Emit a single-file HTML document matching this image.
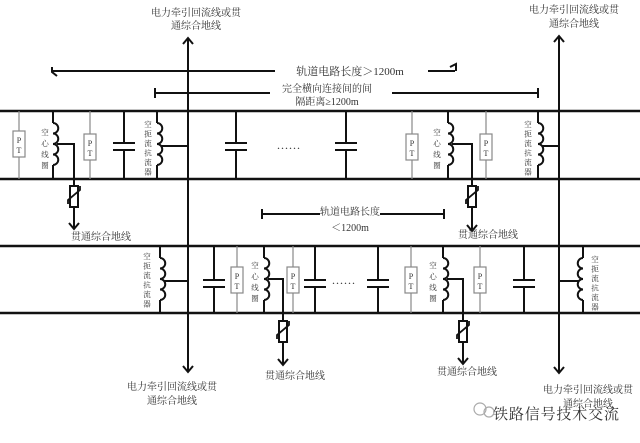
<!DOCTYPE html>
<html><head><meta charset="utf-8"><style>
body{margin:0;background:#fff}
svg{display:block}
text{font-family:"Liberation Serif","Noto Serif CJK SC","Noto Sans CJK SC",serif;fill:#333}
</style></head><body>
<svg width="640" height="443" viewBox="0 0 640 443" xmlns="http://www.w3.org/2000/svg">
<defs>
<path id="coilR" d="M0,0 a5.25,5.25 0 0 1 0,10.5 a5.25,5.25 0 0 1 0,10.5 a5.25,5.25 0 0 1 0,10.5 a5.25,5.25 0 0 1 0,10.5" fill="none" stroke="#111" stroke-width="2"/>
<g id="var">
<rect x="-4" y="0" width="8" height="21" fill="#fff" stroke="#111" stroke-width="2"/>
<path d="M-6,18 L-6,14 L6,4 L6,0" fill="none" stroke="#111" stroke-width="1.8"/>
</g>
</defs>
<g stroke="#111" stroke-width="2.5" fill="none">
<line x1="0" y1="111" x2="640" y2="111"/>
<line x1="0" y1="179" x2="640" y2="179"/>
<line x1="0" y1="246" x2="640" y2="246"/>
<line x1="0" y1="313" x2="640" y2="313"/>
</g>
<g stroke="#111" stroke-width="2" fill="none">
<line x1="188" y1="38" x2="188" y2="372"/>
<path d="M183,44 L188,38 L193,44"/>
<line x1="559" y1="36" x2="559" y2="373"/>
<path d="M554,42 L559,36 L564,42"/>
<path d="M554,367 L559,373 L564,367"/>
<path d="M183,366 L188,372 L193,366"/>
<line x1="52" y1="71" x2="275" y2="71"/>
<path d="M52,67 L52,72 L57,76"/>
<line x1="428" y1="71" x2="455" y2="71"/>
<path d="M450,67 L456,64 L456,71"/>
<line x1="155" y1="93" x2="270" y2="93"/>
<line x1="155" y1="88" x2="155" y2="98"/>
<line x1="392" y1="93" x2="538" y2="93"/>
<line x1="538" y1="88" x2="538" y2="98"/>
<line x1="262" y1="214" x2="320" y2="214"/>
<line x1="262" y1="209" x2="262" y2="219"/>
<line x1="380" y1="214" x2="444" y2="214"/>
<line x1="444" y1="209" x2="444" y2="219"/>

<line x1="53" y1="111" x2="53" y2="123"/><use href="#coilR" x="53" y="123"/><line x1="53" y1="165" x2="53" y2="179"/>
<path d="M57,144 L74,144 L74,186"/><line x1="74" y1="207" x2="74" y2="228"/><path d="M69,223 L74,229 L79,223"/>
<path d="M124,111 V143 M113,143 H135 M113,150 H135 M124,150 V179"/>
<line x1="157" y1="111" x2="157" y2="123"/><use href="#coilR" x="157" y="123"/><line x1="157" y1="165" x2="157" y2="179"/>
<line x1="161" y1="146" x2="188" y2="146"/>
<path d="M236,111 V143 M225,143 H247 M225,150 H247 M236,150 V179"/>
<path d="M346,111 V143 M335,143 H357 M335,150 H357 M346,150 V179"/>
<line x1="448" y1="111" x2="448" y2="123"/><use href="#coilR" x="448" y="123"/><line x1="448" y1="165" x2="448" y2="179"/>
<path d="M452,144 L472,144 L472,186"/><line x1="472" y1="207" x2="472" y2="230"/><path d="M467,225 L472,231 L477,225"/>
<line x1="538" y1="111" x2="538" y2="123"/><use href="#coilR" x="538" y="123"/><line x1="538" y1="165" x2="538" y2="179"/>
<line x1="542" y1="146" x2="559" y2="146"/>

<line x1="160" y1="246" x2="160" y2="258"/><use href="#coilR" x="160" y="258"/><line x1="160" y1="300" x2="160" y2="313"/>
<line x1="164" y1="281" x2="188" y2="281"/>
<path d="M214,246 V280 M203,280 H225 M203,287 H225 M214,287 V313"/>
<line x1="264" y1="246" x2="264" y2="258"/><use href="#coilR" x="264" y="258"/><line x1="264" y1="300" x2="264" y2="313"/>
<path d="M268,279 L283,279 L283,321"/><line x1="283" y1="342" x2="283" y2="364"/><path d="M278,359 L283,365 L288,359"/>
<path d="M315,246 V280 M304,280 H326 M304,287 H326 M315,287 V313"/>
<path d="M378,246 V280 M367,280 H389 M367,287 H389 M378,287 V313"/>
<line x1="443" y1="246" x2="443" y2="258"/><use href="#coilR" x="443" y="258"/><line x1="443" y1="300" x2="443" y2="313"/>
<path d="M447,279 L463,279 L463,321"/><line x1="463" y1="342" x2="463" y2="363"/><path d="M458,358 L463,364 L468,358"/>
<path d="M524,246 V280 M513,280 H535 M513,287 H535 M524,287 V313"/>
<line x1="583" y1="246" x2="583" y2="258"/><use href="#coilR" x="583" y="258" transform="translate(1166,0) scale(-1,1)"/><line x1="583" y1="300" x2="583" y2="313"/>
<line x1="559" y1="281" x2="579" y2="281"/>
</g>
<use href="#var" x="74" y="186"/>
<use href="#var" x="472" y="186"/>
<use href="#var" x="283" y="321"/>
<use href="#var" x="463" y="321"/>
<g stroke="#888" stroke-width="1.2" fill="#fff">
<line x1="19" y1="111" x2="19" y2="179"/><rect x="13" y="131" width="12" height="26"/>
<line x1="90" y1="111" x2="90" y2="179"/><rect x="84" y="134" width="12" height="26"/>
<line x1="412" y1="111" x2="412" y2="179"/><rect x="406" y="134" width="12" height="26"/>
<line x1="486" y1="111" x2="486" y2="179"/><rect x="480" y="134" width="12" height="26"/>
<line x1="237" y1="246" x2="237" y2="313"/><rect x="231" y="267" width="12" height="26"/>
<line x1="293" y1="246" x2="293" y2="313"/><rect x="287" y="267" width="12" height="26"/>
<line x1="411" y1="246" x2="411" y2="313"/><rect x="405" y="267" width="12" height="26"/>
<line x1="480" y1="246" x2="480" y2="313"/><rect x="474" y="267" width="12" height="26"/>
</g>
<g font-size="8" text-anchor="middle" fill="#444">
<text x="19" y="143">P</text><text x="19" y="153">T</text>
<text x="90" y="146">P</text><text x="90" y="156">T</text>
<text x="412" y="146">P</text><text x="412" y="156">T</text>
<text x="486" y="146">P</text><text x="486" y="156">T</text>
<text x="237" y="279">P</text><text x="237" y="289">T</text>
<text x="293" y="279">P</text><text x="293" y="289">T</text>
<text x="411" y="279">P</text><text x="411" y="289">T</text>
<text x="480" y="279">P</text><text x="480" y="289">T</text>
</g>
<g font-size="7.5" text-anchor="middle" fill="#555">
<text x="45" y="135">空</text><text x="45" y="146">心</text><text x="45" y="157">线</text><text x="45" y="168">圈</text>
<text x="148" y="127">空</text><text x="148" y="136.5">扼</text><text x="148" y="146">流</text><text x="148" y="155.5">抗</text><text x="148" y="165">流</text><text x="148" y="174.5">器</text>
<text x="437" y="135">空</text><text x="437" y="146">心</text><text x="437" y="157">线</text><text x="437" y="168">圈</text>
<text x="528" y="127">空</text><text x="528" y="136.5">扼</text><text x="528" y="146">流</text><text x="528" y="155.5">抗</text><text x="528" y="165">流</text><text x="528" y="174.5">器</text>
<text x="147" y="259">空</text><text x="147" y="268.5">扼</text><text x="147" y="278">流</text><text x="147" y="287.5">抗</text><text x="147" y="297">流</text><text x="147" y="306.5">器</text>
<text x="255" y="268">空</text><text x="255" y="279">心</text><text x="255" y="290">线</text><text x="255" y="301">圈</text>
<text x="433" y="268">空</text><text x="433" y="279">心</text><text x="433" y="290">线</text><text x="433" y="301">圈</text>
<text x="595" y="262">空</text><text x="595" y="271.5">扼</text><text x="595" y="281">流</text><text x="595" y="290.5">抗</text><text x="595" y="300">流</text><text x="595" y="309.5">器</text>
</g>
<g font-size="10" text-anchor="middle">
<text x="289" y="149" font-size="12" letter-spacing="1">......</text>
<text x="344" y="284" font-size="12" letter-spacing="1">......</text>
<text x="196" y="16">电力牵引回流线或贯</text><text x="196" y="29">通综合地线</text>
<text x="574" y="13">电力牵引回流线或贯</text><text x="574" y="27">通综合地线</text>
<text x="350" y="75" font-size="11">轨道电路长度＞1200m</text>
<text x="327" y="92">完全横向连接间的间</text>
<text x="327" y="105">隔距离≥1200m</text>
<text x="350" y="215">轨道电路长度</text>
<text x="350" y="231">＜1200m</text>
<text x="101" y="240">贯通综合地线</text>
<text x="488" y="238">贯通综合地线</text>
<text x="295" y="379">贯通综合地线</text>
<text x="467" y="375">贯通综合地线</text>
<text x="172" y="390">电力牵引回流线或贯</text><text x="172" y="404">通综合地线</text>
<text x="588" y="393">电力牵引回流线或贯</text><text x="588" y="407">通综合地线</text>
</g>
<circle cx="480" cy="409" r="6" fill="none" stroke="#aaa" stroke-width="1.2"/>
<circle cx="489" cy="412" r="5" fill="none" stroke="#aaa" stroke-width="1.2"/>
<text x="493" y="419" font-size="15" fill="#999" textLength="126" font-family="'Liberation Sans','Noto Sans CJK SC',sans-serif">铁路信号技术交流</text>
</svg>
</body></html>
